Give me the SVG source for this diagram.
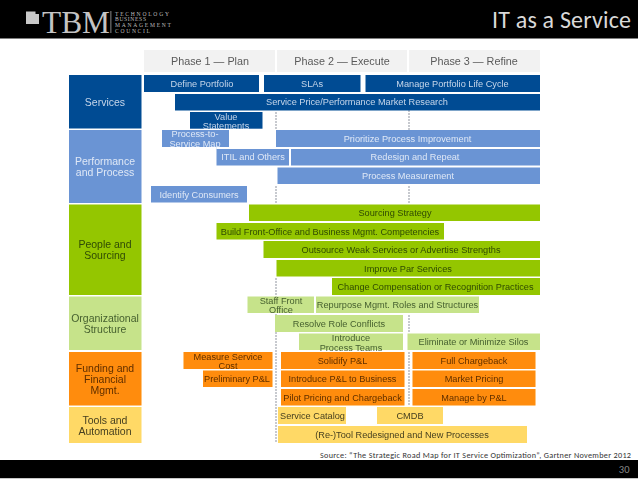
<svg xmlns="http://www.w3.org/2000/svg" width="638" height="479" viewBox="0 0 638 479">
<defs><filter id="soft" x="-2%" y="-2%" width="104%" height="104%"><feGaussianBlur stdDeviation="0.35"/></filter></defs>
<style>
text{font-family:"Liberation Sans",Arial,sans-serif;text-anchor:middle}
text.logo{font-family:"Liberation Serif",serif;text-anchor:start;fill:#bdbdbd;font-size:5.6px}
text.cal{font-family:Carlito,"Open Sans",sans-serif;text-anchor:end}
.b{font-size:9.2px}
.l{font-size:10.5px}
.h{font-size:10.8px;fill:#5a5a5a}
.ph{fill:#f2f2f2}
.s{fill:#004b93}.st{fill:#c6d6ea}
.p{fill:#6a94d4}.pt{fill:#dfe8f6}
.g{fill:#94c600}.gt{fill:#2f4a08}
.o{fill:#c6e38a}.ot{fill:#46602f}
.f{fill:#ff8c0a}.ft{fill:#5f2e04}
.t{fill:#ffd966}.tt{fill:#474020}
.c line{stroke:#9a9ea8;stroke-width:1.1;stroke-dasharray:2 1}
</style>
<rect width="638" height="479" fill="#fff"/>
<g id="header">
<rect width="638" height="38.500" fill="#000"/>
<rect x="26" y="11.500" width="13" height="12.500" fill="#c9c9c9"/>
<rect x="35.500" y="11" width="3.500" height="3" fill="#000"/>
<text x="76" y="33" font-size="32" style="font-family:'Liberation Serif',serif;fill:#c4c4c4" textLength="68" lengthAdjust="spacingAndGlyphs">TBM</text>
<rect x="110.500" y="11" width="0.800" height="22" fill="#aaa"/>
<text class="logo" x="115" y="15.500" textLength="54">TECHNOLOGY</text>
<text class="logo" x="115" y="21" textLength="31">BUSINESS</text>
<text class="logo" x="115" y="27" textLength="56">MANAGEMENT</text>
<text class="logo" x="115" y="32.500" textLength="35">COUNCIL</text>
<text class="cal" x="631" y="27.500" font-size="24" style="fill:#d9d9d9" textLength="139">IT as a Service</text>
</g>
<g id="diagram" filter="url(#soft)">
<g id="phases">
<g id="phase1"><rect class="ph" x="144" y="50" width="131" height="22"/><text class="h" x="210" y="65">Phase 1 — Plan</text></g>
<g id="phase2"><rect class="ph" x="277" y="50" width="130" height="22"/><text class="h" x="342" y="65">Phase 2 — Execute</text></g>
<g id="phase3"><rect class="ph" x="409" y="50" width="131" height="22"/><text class="h" x="474" y="65">Phase 3 — Refine</text></g>
</g>
<g id="connectors" class="c">
<line x1="276" y1="112" x2="276" y2="130"/>
<line x1="276" y1="186" x2="276" y2="204"/>
<line x1="276" y1="278" x2="276" y2="443"/>
<line x1="409" y1="110" x2="409" y2="130"/>
<line x1="409" y1="186" x2="409" y2="204"/>
<line x1="409" y1="315" x2="409" y2="333"/>
<line x1="409" y1="352" x2="409" y2="405"/>
</g>
<g id="row-services"><rect class="s" x="69" y="75" width="72.500" height="53.500"/><text class="l st" x="105" y="105.500">Services</text></g>
<g id="row-performance"><rect class="p" x="69" y="130" width="72.500" height="73"/><text class="l pt" x="105" y="165">Performance</text><text class="l pt" x="105" y="176">and Process</text></g>
<g id="row-people"><rect class="g" x="69" y="204.500" width="72.500" height="90.500"/><text class="l gt" x="105" y="248">People and</text><text class="l gt" x="105" y="259">Sourcing</text></g>
<g id="row-org"><rect class="o" x="69" y="296.500" width="72.500" height="53.500"/><text class="l ot" x="105" y="321.500">Organizational</text><text class="l ot" x="105" y="332.500">Structure</text></g>
<g id="row-funding"><rect class="f" x="69" y="352" width="72.500" height="53.500"/><text class="l ft" x="105" y="371.500">Funding and</text><text class="l ft" x="105" y="382.500">Financial</text><text class="l ft" x="105" y="394">Mgmt.</text></g>
<g id="row-tools"><rect class="t" x="69" y="407" width="72.500" height="36"/><text class="l tt" x="105" y="423.500">Tools and</text><text class="l tt" x="105" y="434.500">Automation</text></g>

<g id="n1"><rect class="s" x="144" y="75" width="115" height="17"/><text class="b st" x="202" y="86.500">Define Portfolio</text></g>
<g id="n2"><rect class="s" x="264" y="75" width="96.500" height="17"/><text class="b st" x="312" y="86.500">SLAs</text></g>
<g id="n3"><rect class="s" x="365.500" y="75" width="174.500" height="17"/><text class="b st" x="452.500" y="86.500">Manage Portfolio Life Cycle</text></g>
<g id="n4"><rect class="s" x="175" y="94" width="365" height="16.500"/><text class="b st" x="357" y="105">Service Price/Performance Market Research</text></g>
<g id="n5"><rect class="s" x="190" y="112" width="72.500" height="16.700"/><text class="b st" x="226" y="119.500">Value</text><text class="b st" x="226" y="128.500">Statements</text></g>
<g id="n6"><rect class="p" x="162" y="130" width="67" height="17"/><text class="b pt" x="195" y="137">Process-to-</text><text class="b pt" x="195" y="146.500">Service Map</text></g>
<g id="n7"><rect class="p" x="276" y="130" width="264" height="17"/><text class="b pt" x="407.500" y="142">Prioritize Process Improvement</text></g>
<g id="n8"><rect class="p" x="216.500" y="149" width="72.500" height="16.500"/><text class="b pt" x="253" y="160">ITIL and Others</text></g>
<g id="n9"><rect class="p" x="291" y="149" width="249" height="16.500"/><text class="b pt" x="415" y="160">Redesign and Repeat</text></g>
<g id="n10"><rect class="p" x="277.500" y="167.500" width="262.500" height="16.500"/><text class="b pt" x="408" y="179">Process Measurement</text></g>
<g id="n11"><rect class="p" x="151" y="186" width="96" height="16.500"/><text class="b pt" x="199" y="197.500">Identify Consumers</text></g>
<g id="n12"><rect class="g" x="249" y="204.500" width="291" height="16.500"/><text class="b gt" x="395" y="216">Sourcing Strategy</text></g>
<g id="n13"><rect class="g" x="216.500" y="223" width="227.500" height="16.500"/><text class="b gt" x="330" y="234.500">Build Front-Office and Business Mgmt. Competencies</text></g>
<g id="n14"><rect class="g" x="263.500" y="241" width="276.500" height="17"/><text class="b gt" x="401" y="252.500">Outsource Weak Services or Advertise Strengths</text></g>
<g id="n15"><rect class="g" x="276.500" y="260" width="263.500" height="16.500"/><text class="b gt" x="408" y="271.500">Improve Par Services</text></g>
<g id="n16"><rect class="g" x="332" y="278" width="208" height="17"/><text class="b gt" x="435.500" y="289.500">Change Compensation or Recognition Practices</text></g>
<g id="n17"><rect class="o" x="247.500" y="296.500" width="66.500" height="16.500"/><text class="b ot" x="281" y="303.500">Staff Front</text><text class="b ot" x="281" y="312.500">Office</text></g>
<g id="n18"><rect class="o" x="316" y="296.500" width="163" height="16.500"/><text class="b ot" x="397.500" y="308">Repurpose Mgmt. Roles and Structures</text></g>
<g id="n19"><rect class="o" x="275" y="315" width="128" height="17"/><text class="b ot" x="339" y="326.500">Resolve Role Conflicts</text></g>
<g id="n20"><rect class="o" x="299" y="333.500" width="104" height="16.500"/><text class="b ot" x="351" y="340.500">Introduce</text><text class="b ot" x="351" y="350.500">Process Teams</text></g>
<g id="n21"><rect class="o" x="407.500" y="333.500" width="132.500" height="16.500"/><text class="b ot" x="473.500" y="345">Eliminate or Minimize Silos</text></g>
<g id="n22"><rect class="f" x="183.500" y="352" width="89" height="17"/><text class="b ft" x="228" y="359.500">Measure Service</text><text class="b ft" x="228" y="368.500">Cost</text></g>
<g id="n23"><rect class="f" x="281" y="352" width="123.500" height="17"/><text class="b ft" x="342.500" y="363.500">Solidify P&amp;L</text></g>
<g id="n24"><rect class="f" x="412.500" y="352" width="123" height="17"/><text class="b ft" x="474" y="363.500">Full Chargeback</text></g>
<g id="n25"><rect class="f" x="203" y="370.500" width="69.500" height="16.500"/><text class="b ft" x="237" y="382">Preliminary P&amp;L</text></g>
<g id="n26"><rect class="f" x="281" y="370.500" width="123.500" height="16.500"/><text class="b ft" x="342.500" y="382">Introduce P&amp;L to Business</text></g>
<g id="n27"><rect class="f" x="412.500" y="370.500" width="123" height="16.500"/><text class="b ft" x="474" y="382">Market Pricing</text></g>
<g id="n28"><rect class="f" x="281" y="389" width="123.500" height="16.500"/><text class="b ft" x="342.500" y="400.500">Pilot Pricing and Chargeback</text></g>
<g id="n29"><rect class="f" x="412.500" y="389" width="123" height="16.500"/><text class="b ft" x="474" y="400.500">Manage by P&amp;L</text></g>
<g id="n30"><rect class="t" x="278" y="407" width="68" height="17"/><text class="b tt" x="312.500" y="419">Service Catalog</text></g>
<g id="n31"><rect class="t" x="377" y="407" width="66" height="17"/><text class="b tt" x="410" y="419">CMDB</text></g>
<g id="n32"><rect class="t" x="278" y="426" width="249" height="17"/><text class="b tt" x="402" y="437.500">(Re-)Tool Redesigned and New Processes</text></g>
</g>
<g id="footer">
<text class="cal" x="631" y="458" font-size="8.200" style="fill:#333" textLength="311">Source: “The Strategic Road Map for IT Service Optimization”, Gartner November 2012</text>
<rect y="460" width="638" height="18" fill="#000"/>
<rect y="478" width="638" height="1" fill="#c8c8c8"/>
<text class="cal" x="629.500" y="473" font-size="10.500" style="fill:#8a8a8a">30</text>
</g>
</svg>
